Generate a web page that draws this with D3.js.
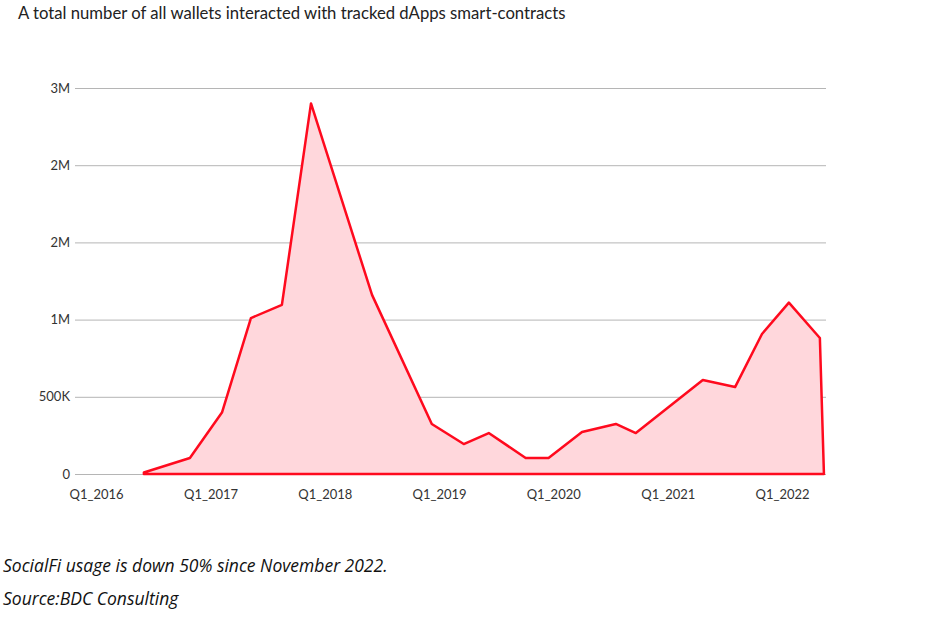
<!DOCTYPE html>
<html>
<head>
<meta charset="utf-8">
<script src="https://cdn.jsdelivr.net/npm/d3@7"></script>
<style>
  body { margin: 0; background: #fff; }
  #okvir { width: 927px; height: 624px; position: relative; }
  .note { position: absolute; left: 3px; font-family: "Open Sans", "Noto Sans", sans-serif; font-style: italic; font-size: 17.5px; color: #111; margin: 0; }
</style>
</head>
<body>
<div id="okvir"></div>
<p class="note" style="top:553px">SocialFi usage is down 50% since November 2022.</p>
<p class="note" style="top:586px">Source:BDC Consulting</p>
<script>
// approximate dates of each point
const datumi = [
  "2016-06-02", "2016-10-27", "2017-02-07", "2017-05-10", "2017-08-17",
  "2017-11-18", "2018-06-01", "2018-12-09", "2019-03-21", "2019-06-09",
  "2019-10-05", "2019-12-17", "2020-04-02", "2020-07-19", "2020-09-21",
  "2021-04-23", "2021-08-04", "2021-10-29", "2022-01-23", "2022-05-02",
  "2022-05-15"
]
const novcanici = [
  10000, 104000, 400000, 1010000, 1095000,
  2400000, 1160000, 324000, 194000, 265000,
  104000, 104000, 272000, 324000, 265000,
  609000, 563000, 907000, 1110000, 881000,
  0
]
const yTickVrijednosti = [0, 500000, 1000000, 1500000, 2000000, 2500000]
const yTickOznake = ["0", "500K", "1M", "2M", "2M", "3M"]
const xTickDatumi = ["2016-01-01", "2017-01-01", "2018-01-01", "2019-01-01", "2020-01-01", "2021-01-01", "2022-01-01"]
const xTickOznake = ["Q1_2016", "Q1_2017", "Q1_2018", "Q1_2019", "Q1_2020", "Q1_2021", "Q1_2022"]

const parse = d3.timeParse("%Y-%m-%d")
const dataset = datumi.map((d, i) => ({ datum: parse(d), broj: novcanici[i] }))

const xAccessor = d => d.datum
const yAccessor = d => d.broj

const dimenzije = {
  sirina: 927,
  visina: 545,
  margine: { top: 88, right: 101, bottom: 71, left: 75 }
}
dimenzije.grSirina = dimenzije.sirina - dimenzije.margine.left - dimenzije.margine.right
dimenzije.grVisina = dimenzije.visina - dimenzije.margine.top - dimenzije.margine.bottom

const okvir = d3.select("#okvir")
  .append("svg")
  .attr("width", dimenzije.sirina)
  .attr("height", dimenzije.visina)
  .style("position", "absolute")
  .style("left", 0).style("top", 0)

okvir.append("text")
  .attr("x", 18)
  .attr("y", 19)
  .attr("fill", "#222")
  .style("font-family", "Lato, sans-serif")
  .style("font-size", "16.7px")
  .text("A total number of all wallets interacted with tracked dApps smart-contracts")

const granice = okvir.append("g")
  .attr("transform", `translate(${dimenzije.margine.left},${dimenzije.margine.top})`)

// Jan 2016 sits 21px right of the left edge, Jan 2022 at 707px
const t0 = parse("2016-01-01"), t1 = parse("2022-01-01")
const pxPoDanu = 686 / ((t1 - t0))
const xSkala = d3.scaleTime()
  .domain([new Date(+t0 - 21 / pxPoDanu), new Date(+t0 + (dimenzije.grSirina - 21) / pxPoDanu)])
  .range([0, dimenzije.grSirina])

const ySkala = d3.scaleLinear()
  .domain([0, 2500000])
  .range([dimenzije.grVisina, 0])

// grid + y labels
const yOs = granice.append("g")
  .call(d3.axisLeft(ySkala)
    .tickValues(yTickVrijednosti)
    .tickSize(-dimenzije.grSirina)
    .tickPadding(5)
    .tickFormat((d, i) => yTickOznake[i]))
yOs.select(".domain").remove()
yOs.selectAll(".tick line").attr("stroke", "#b5b5b5").attr("stroke-width", 1)
yOs.selectAll(".tick text")
  .attr("fill", "#333")
  .style("font-family", "Lato, sans-serif")
  .style("font-size", "13px")

const xOs = granice.append("g")
  .attr("transform", `translate(0,${dimenzije.grVisina})`)
  .call(d3.axisBottom(xSkala)
    .tickValues(xTickDatumi.map(parse))
    .tickSize(0)
    .tickPadding(16)
    .tickFormat((d, i) => xTickOznake[i]))
xOs.select(".domain").remove()
xOs.selectAll(".tick text")
  .attr("fill", "#333")
  .style("font-family", "Lato, sans-serif")
  .style("font-size", "13px")

const povrsina = d3.area()
  .x(d => xSkala(xAccessor(d)))
  .y0(ySkala(0))
  .y1(d => ySkala(yAccessor(d)))

granice.append("path")
  .datum(dataset)
  .attr("d", d => povrsina(d) )
  .attr("fill", "#ffd7dc")
  .attr("stroke", "#ff0a1e")
  .attr("stroke-width", 2.5)
  .attr("stroke-linejoin", "round")
</script>
</body>
</html>
